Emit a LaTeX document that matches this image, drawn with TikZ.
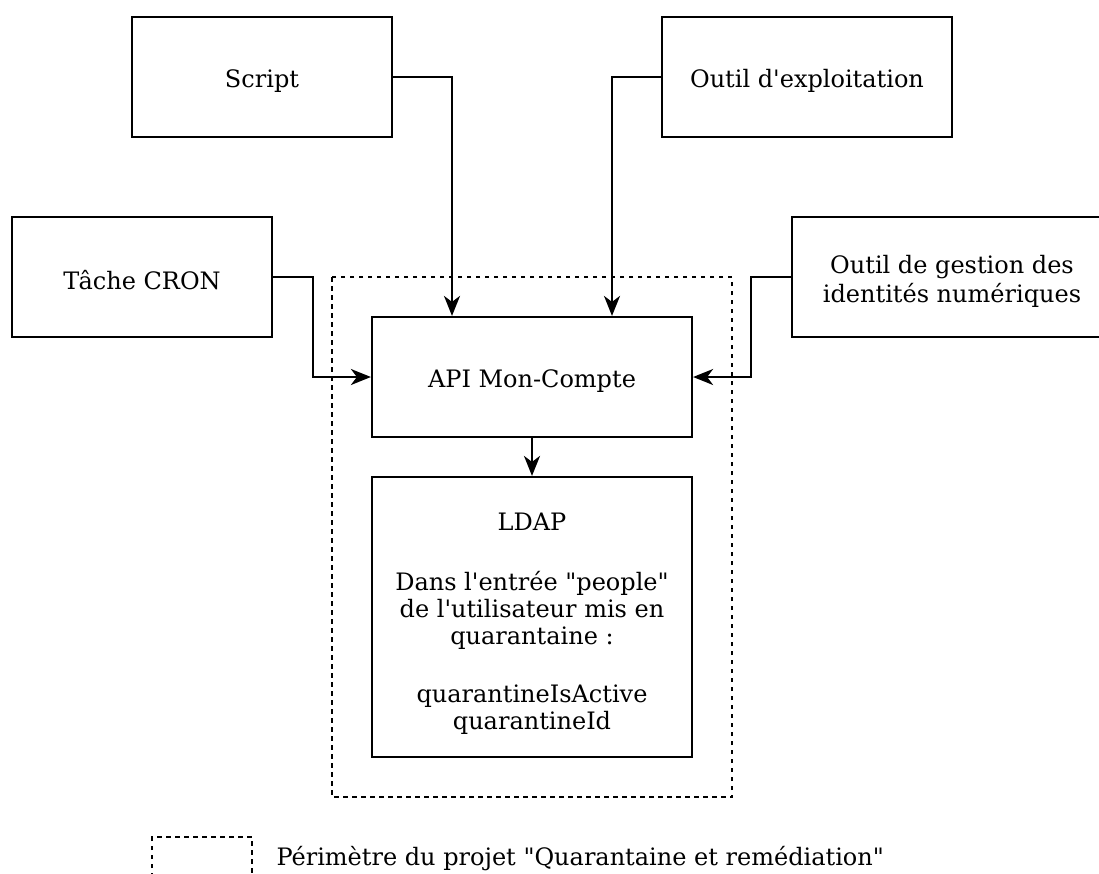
\documentclass[tikz,border=0pt]{standalone}
\usepackage{fontspec}
\newfontfamily\dejavu{DejaVu Serif}
\usetikzlibrary{arrows.meta}

\begin{document}
\begin{tikzpicture}[
        x=1pt, y=-1pt,
        every node/.style={font=\dejavu\fontsize{24}{27}\selectfont},
        boite/.style={draw, line width=2.2pt, align=center, inner sep=0pt},
        perim/.style={draw, line width=2.2pt, dash pattern=on 4.5pt off 4.5pt},
        lien/.style={line width=2.2pt, -{Stealth[length=20pt,width=16pt,inset=6pt]}}
    ]
    \useasboundingbox (0,0) rectangle (1099,873);
    \clip (0,0) rectangle (1099,873);

    % perimetre du projet
    \draw[perim] (332,277) rectangle (732,797);

    \node[boite, minimum width=260pt, minimum height=120pt] (script) at (262,77)
        {\rule{0pt}{26pt}Script};
    \node[boite, minimum width=290pt, minimum height=120pt] (outil) at (807,77)
        {\rule{0pt}{26pt}Outil d'exploitation};
    \node[boite, minimum width=260pt, minimum height=120pt] (cron) at (142,277)
        {\rule{0pt}{26pt}Tâche CRON};
    \node[boite, minimum width=320pt, minimum height=120pt] (gestion) at (952,277)
        {\rule{0pt}{26pt}Outil de gestion des\\[2pt]identités numériques};
    \node[boite, minimum width=320pt, minimum height=120pt] (api) at (532,377)
        {\rule{0pt}{26pt}API Mon-Compte};
    \node[boite, minimum width=320pt, minimum height=280pt] (ldap) at (532,617)
        {\rule{0pt}{30pt}LDAP\\[33pt]Dans l'entrée "people"\\de l'utilisateur mis en\\quarantaine :\\[31pt]quarantineIsActive\\quarantineId};

    \draw[lien] (script.east) -| ([xshift=-80pt]api.north);
    \draw[lien] (outil.west) -| ([xshift=80pt]api.north);
    \draw[lien] (cron.east) -- ++(40,0) |- (api.west);
    \draw[lien] (gestion.west) -- ++(-40,0) |- (api.east);
    \draw[lien] (api.south) -- (ldap.north);

    % legende
    \draw[perim] (152,877) -- (152,837) -- (252,837) -- (252,877);
    \node[anchor=west] (legende) at (273,859) {Périmètre du projet "Quarantaine et remédiation"};
\end{tikzpicture}
\end{document}
